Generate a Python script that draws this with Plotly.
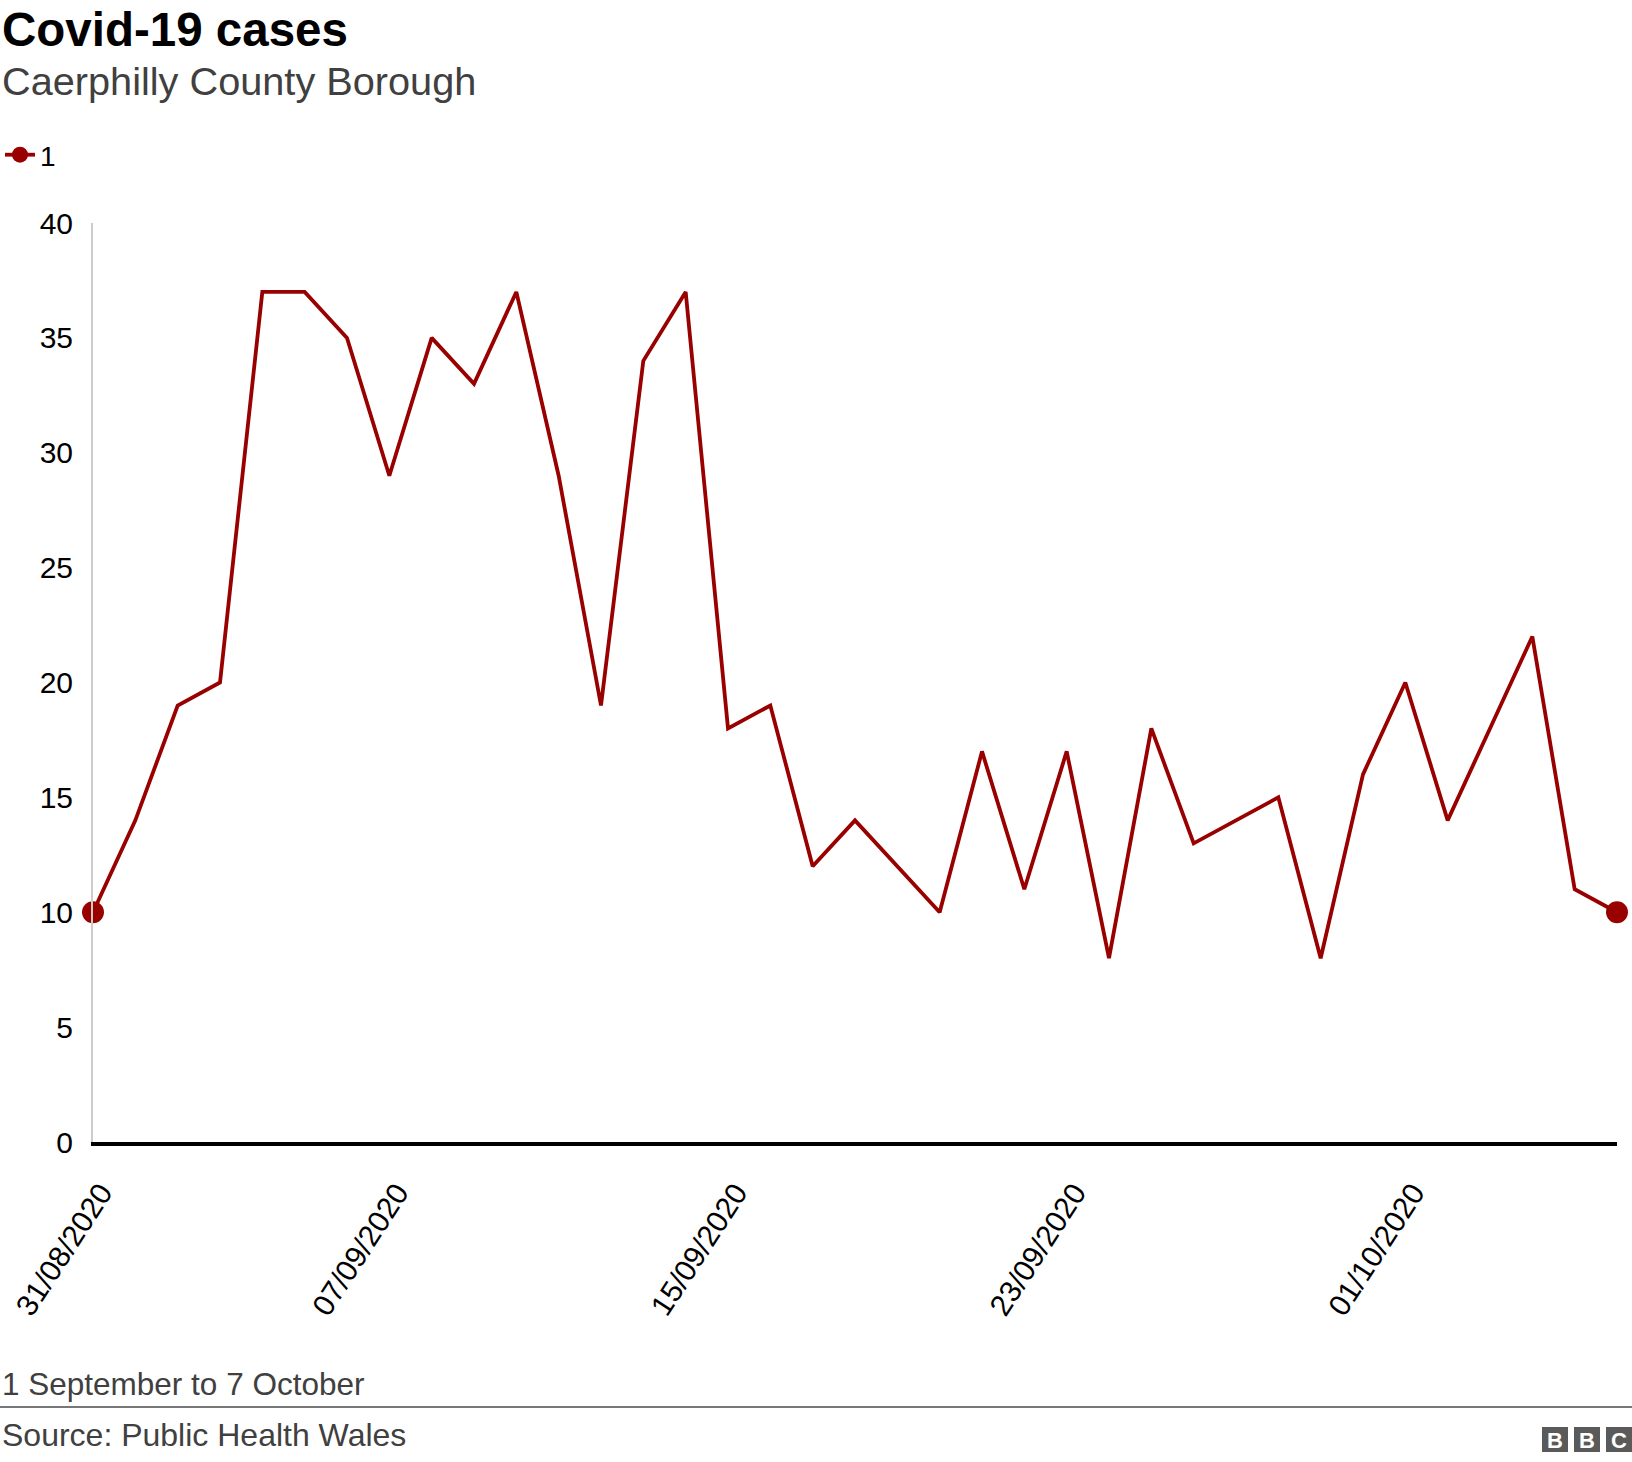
import plotly.graph_objects as go

dates = ["31/08/2020", "01/09/2020", "02/09/2020", "03/09/2020", "04/09/2020", "05/09/2020",
         "06/09/2020", "07/09/2020", "08/09/2020", "09/09/2020", "10/09/2020", "11/09/2020",
         "12/09/2020", "13/09/2020", "14/09/2020", "15/09/2020", "16/09/2020", "17/09/2020",
         "18/09/2020", "19/09/2020", "20/09/2020", "21/09/2020", "22/09/2020", "23/09/2020",
         "24/09/2020", "25/09/2020", "26/09/2020", "27/09/2020", "28/09/2020", "29/09/2020",
         "30/09/2020", "01/10/2020", "02/10/2020", "03/10/2020", "04/10/2020", "05/10/2020",
         "06/10/2020"]
cases = [10, 14, 19, 20, 37, 37, 35, 29, 35, 33, 37, 29, 19, 34, 37, 18, 19, 12, 14, 12,
         10, 17, 11, 17, 8, 18, 13, 14, 15, 8, 16, 20, 14, 18, 22, 11, 10]
x_ticks = ["31/08/2020", "07/09/2020", "15/09/2020", "23/09/2020", "01/10/2020"]
y_ticks = [0, 5, 10, 15, 20, 25, 30, 35, 40]
series_name = "1"

RED = "#990000"
FONT = "Liberation Sans, Arial, sans-serif"
W, H = 1632, 1462
ML, MR, MT, MB = 93, 15, 223, 320
PW, PH = W - ML - MR, H - MT - MB


def px_x(px):
    return (px - ML) / PW


def px_y(py):
    return (H - MB - py) / PH


fig = go.Figure()
fig.add_trace(go.Scatter(x=dates, y=cases, mode="lines", line=dict(color=RED, width=3.8),
                         showlegend=False, hoverinfo="x+y"))
fig.add_trace(go.Scatter(x=[dates[0], dates[-1]], y=[cases[0], cases[-1]], mode="markers",
                         marker=dict(color=RED, size=22), showlegend=False, cliponaxis=False))
fig.add_trace(go.Scatter(x=[None], y=[None], mode="lines+markers", name=series_name,
                         line=dict(color=RED, width=3.8), marker=dict(color=RED, size=22)))

shapes = [
    dict(type="line", xref="paper", yref="paper", x0=px_x(0), x1=px_x(W), y0=px_y(1407), y1=px_y(1407),
         line=dict(color="#777777", width=2)),
]
annotations = [
    dict(text="<b>Covid-19 cases</b>", x=px_x(0), y=px_y(30), xref="paper", yref="paper",
         xanchor="left", yanchor="middle", showarrow=False, font=dict(size=47.5, color="#000000", family=FONT)),
    dict(text="Caerphilly County Borough", x=px_x(0), y=px_y(81), xref="paper", yref="paper",
         xanchor="left", yanchor="middle", showarrow=False, font=dict(size=39.7, color="#404040", family=FONT)),
    dict(text="1 September to 7 October", x=px_x(0), y=px_y(1384), xref="paper", yref="paper",
         xanchor="left", yanchor="middle", showarrow=False, font=dict(size=31.5, color="#404040", family=FONT)),
    dict(text="Source: Public Health Wales", x=px_x(0), y=px_y(1435), xref="paper", yref="paper",
         xanchor="left", yanchor="middle", showarrow=False, font=dict(size=32, color="#404040", family=FONT)),
]
# BBC logo blocks
for x0, letter in [(1542, "B"), (1574, "B"), (1606, "C")]:
    shapes.append(dict(type="rect", xref="paper", yref="paper", x0=px_x(x0), x1=px_x(x0 + 26),
                       y0=px_y(1452), y1=px_y(1427), fillcolor="#5a5a5a", line=dict(width=0)))
    annotations.append(dict(text="<b>" + letter + "</b>", x=px_x(x0 + 13), y=px_y(1440), xref="paper",
                            yref="paper", xanchor="center", yanchor="middle", showarrow=False,
                            font=dict(size=22, color="#ffffff", family=FONT)))

fig.update_layout(
    width=W, height=H,
    margin=dict(l=ML, r=MR, t=MT, b=MB, pad=0, autoexpand=False),
    paper_bgcolor="white", plot_bgcolor="white",
    font=dict(family=FONT, color="#000000"),
    showlegend=True,
    legend=dict(xref="container", yref="container", x=0, y=1 - 155 / H, xanchor="left", yanchor="middle",
                font=dict(size=28, color="#000000", family=FONT), bgcolor="rgba(0,0,0,0)",
                itemsizing="trace"),
    shapes=shapes, annotations=annotations,
    xaxis=dict(type="category", range=[0, len(dates) - 1], tickvals=x_ticks, ticktext=x_ticks,
               tickangle=-57, ticks="", showgrid=False, zeroline=False, showline=True, automargin=False,
               ticklabelstandoff=17, ticklabelshift=8,
               linecolor="#000000", linewidth=4, tickfont=dict(size=30, color="#000000", family=FONT)),
    yaxis=dict(range=[0, 40], tickvals=y_ticks, ticks="", showgrid=False, zeroline=False, showline=True,
               linecolor="#cccccc", linewidth=2, ticklabelstandoff=12, automargin=False,
               tickfont=dict(size=30, color="#000000", family=FONT)),
)

fig.write_html("out.html", config={"displayModeBar": False},
               post_script="document.body.style.margin='0';document.body.style.overflow='hidden';")
